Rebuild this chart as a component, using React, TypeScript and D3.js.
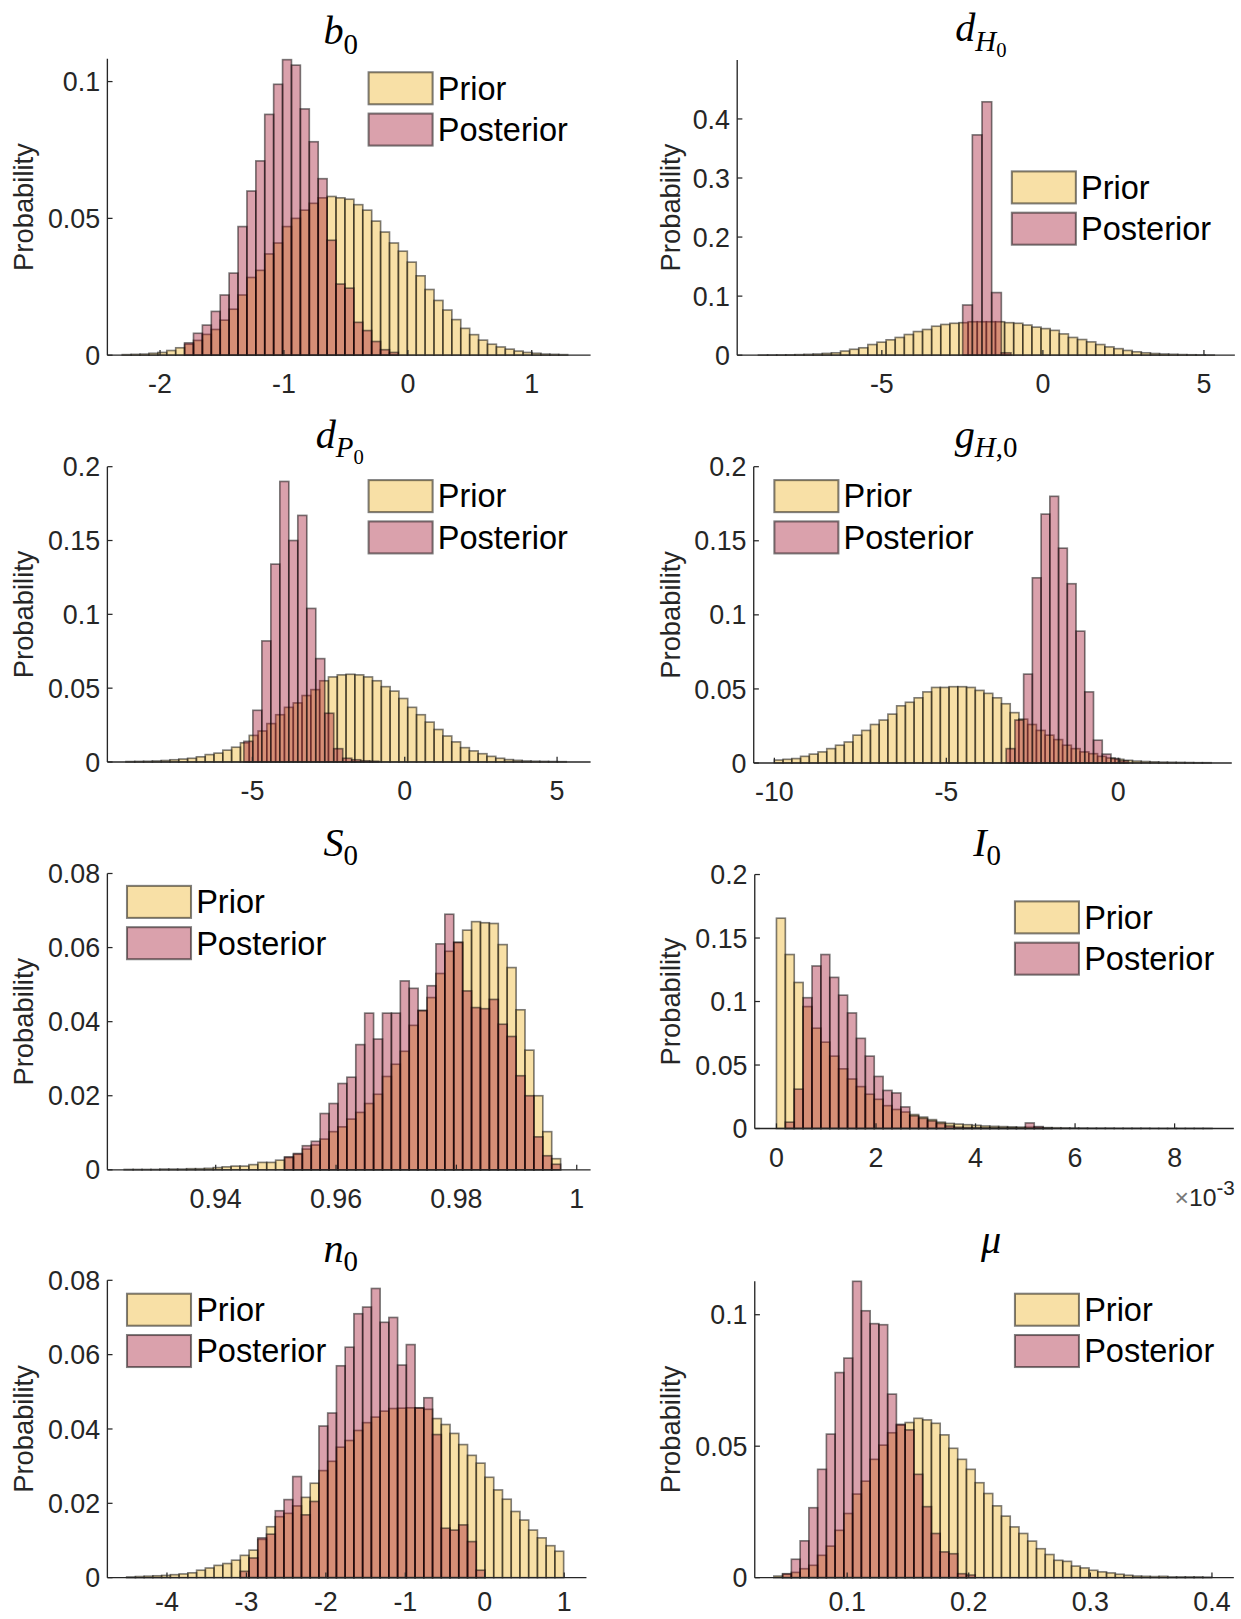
import * as d3 from "d3";

// ---- data (probabilities per bin) ----
const b0Prior = [0.0002, 0.0003, 0.0004, 0.0007, 0.001, 0.0017, 0.0027, 0.004, 0.0054, 0.0076, 0.0094, 0.0128, 0.0168, 0.022, 0.0284, 0.031, 0.037, 0.041, 0.047, 0.05, 0.053, 0.0555, 0.0575, 0.058, 0.0575, 0.057, 0.055, 0.053, 0.049, 0.045, 0.041, 0.038, 0.034, 0.029, 0.024, 0.02, 0.0165, 0.013, 0.0098, 0.0075, 0.0055, 0.004, 0.003, 0.0022, 0.0015, 0.001, 0.0007, 0.0004, 0.0003, 0.0002];
const b0Post = [0.0045, 0.008, 0.011, 0.016, 0.022, 0.03, 0.047, 0.06, 0.071, 0.088, 0.099, 0.108, 0.106, 0.09, 0.078, 0.0645, 0.042, 0.026, 0.0245, 0.012, 0.009, 0.005, 0.002, 0.001];

const dH0Prior = [0.0002, 0.0003, 0.0004, 0.0006, 0.0009, 0.0014, 0.002, 0.003, 0.004, 0.007, 0.01, 0.0125, 0.018, 0.022, 0.026, 0.03, 0.035, 0.04, 0.0435, 0.049, 0.052, 0.054, 0.055, 0.0566, 0.0566, 0.0566, 0.0566, 0.055, 0.054, 0.051, 0.0475, 0.045, 0.042, 0.036, 0.03, 0.0265, 0.0225, 0.018, 0.014, 0.011, 0.008, 0.0057, 0.004, 0.0028, 0.002, 0.0015, 0.001, 0.0007, 0.0005, 0.0003];
const dH0Post = [0.085, 0.373, 0.429, 0.106, 0.004];

const dP0Prior = [0.0003, 0.0004, 0.0005, 0.0007, 0.001, 0.0015, 0.002, 0.0025, 0.0035, 0.005, 0.006, 0.008, 0.01, 0.013, 0.018, 0.021, 0.026, 0.032, 0.037, 0.04, 0.045, 0.049, 0.055, 0.0576, 0.059, 0.0594, 0.059, 0.0576, 0.055, 0.051, 0.048, 0.043, 0.037, 0.032, 0.027, 0.022, 0.0176, 0.0136, 0.0097, 0.0075, 0.0056, 0.0038, 0.0025, 0.0016, 0.0011, 0.0007, 0.0005, 0.0004, 0.0003, 0.0002];
const dP0Post = [0.014, 0.035, 0.082, 0.134, 0.19, 0.15, 0.167, 0.104, 0.07, 0.033, 0.009, 0.0025, 0.0015, 0.0008, 0.0005];

const gH0Prior = [0.002, 0.0025, 0.003, 0.0045, 0.006, 0.0075, 0.0097, 0.012, 0.0142, 0.0188, 0.022, 0.026, 0.029, 0.033, 0.0386, 0.041, 0.044, 0.048, 0.051, 0.051, 0.0515, 0.0515, 0.051, 0.049, 0.047, 0.044, 0.04, 0.034, 0.0296, 0.026, 0.022, 0.0188, 0.0158, 0.012, 0.0097, 0.0075, 0.0063, 0.0045, 0.0034, 0.0025, 0.0018, 0.0013, 0.001, 0.0008, 0.0006, 0.0005, 0.0004, 0.0003, 0.0002, 0.0002];
const gH0Post = [0.0097, 0.029, 0.06, 0.125, 0.168, 0.18, 0.145, 0.121, 0.089, 0.048, 0.0154, 0.006, 0.003, 0.0015];

const s0Prior = [0.0001, 0.0001, 0.0001, 0.0001, 0.0002, 0.0002, 0.0002, 0.0003, 0.0003, 0.0004, 0.0006, 0.0008, 0.001, 0.001, 0.0014, 0.002, 0.002, 0.0026, 0.0033, 0.0042, 0.0056, 0.0067, 0.0083, 0.0103, 0.0116, 0.0137, 0.0155, 0.0179, 0.0204, 0.0252, 0.0285, 0.032, 0.039, 0.043, 0.0465, 0.053, 0.059, 0.0614, 0.0647, 0.067, 0.0667, 0.0665, 0.0608, 0.0546, 0.0432, 0.0323, 0.02, 0.0103, 0.003];
const s0Post = [0.0035, 0.0044, 0.0065, 0.0077, 0.0152, 0.0179, 0.0233, 0.025, 0.0338, 0.0423, 0.0353, 0.0423, 0.0423, 0.051, 0.049, 0.043, 0.0497, 0.061, 0.069, 0.0614, 0.0483, 0.0438, 0.0435, 0.046, 0.0393, 0.036, 0.0254, 0.02, 0.0089, 0.0038, 0.0015];

// I0 bins are in units of 1e-3
const i0Prior = [0.1656, 0.137, 0.115, 0.096, 0.079, 0.068, 0.057, 0.047, 0.039, 0.033, 0.027, 0.023, 0.018, 0.015, 0.013, 0.011, 0.009, 0.007, 0.005, 0.004, 0.0035, 0.003, 0.0025, 0.002, 0.0017, 0.0015, 0.0013, 0.0011, 0.001, 0.0008, 0.0007, 0.0006, 0.0005, 0.0004, 0.0004, 0.0003, 0.0003, 0.0003, 0.0002, 0.0002, 0.0002, 0.0002, 0.0001, 0.0001, 0.0001, 0.0001, 0.0001, 0.0001, 0.0001];
const i0Post = [0.005, 0.031, 0.103, 0.128, 0.137, 0.119, 0.105, 0.091, 0.071, 0.057, 0.041, 0.03, 0.028, 0.017, 0.01, 0.008, 0.006, 0.004, 0.002, 0.001, 0.0008, 0.0006, 0.0005, 0.0005, 0.0004, 0.0004, 0.0003, 0.0044, 0.0015, 0.0003];

const n0Prior = [0.0002, 0.0003, 0.0004, 0.0005, 0.0006, 0.0008, 0.001, 0.0013, 0.002, 0.0026, 0.0033, 0.0038, 0.0047, 0.006, 0.0074, 0.0103, 0.0137, 0.0164, 0.0173, 0.0193, 0.0216, 0.0254, 0.0288, 0.0313, 0.0351, 0.0369, 0.0396, 0.0417, 0.0432, 0.0448, 0.0455, 0.0456, 0.0457, 0.0456, 0.0453, 0.0428, 0.0412, 0.0388, 0.0358, 0.0329, 0.0308, 0.027, 0.0236, 0.0211, 0.0178, 0.0155, 0.0128, 0.0107, 0.0086, 0.0071];
const n0Post = [0.0017, 0.0053, 0.0107, 0.0117, 0.018, 0.021, 0.0272, 0.0169, 0.0205, 0.0408, 0.0443, 0.057, 0.062, 0.071, 0.0728, 0.0778, 0.0687, 0.07, 0.0572, 0.0627, 0.0457, 0.0484, 0.0385, 0.0133, 0.0128, 0.0142, 0.0097, 0.002];

const muPrior = [0.0006, 0.0013, 0.002, 0.0034, 0.0047, 0.0085, 0.012, 0.018, 0.0244, 0.0318, 0.0367, 0.045, 0.0504, 0.0551, 0.058, 0.059, 0.0606, 0.06, 0.0587, 0.0543, 0.0492, 0.045, 0.0412, 0.0361, 0.032, 0.0273, 0.0234, 0.0193, 0.0168, 0.0139, 0.011, 0.0088, 0.0066, 0.0062, 0.0044, 0.0037, 0.0028, 0.0022, 0.0018, 0.0013, 0.0009, 0.0006, 0.0005, 0.0004, 0.0005, 0.0003, 0.0003, 0.0003, 0.0003, 0.0002];
const muPost = [0.0015, 0.007, 0.014, 0.0266, 0.0412, 0.0546, 0.078, 0.0835, 0.1127, 0.1015, 0.0966, 0.0962, 0.0698, 0.0583, 0.0562, 0.0393, 0.027, 0.0168, 0.0098, 0.0091, 0.0015, 0.001];

// bin edges: [first edge, bin width]
const b0PriorBins = [-2.305, 0.0719];
const b0PostBins = [-1.802, 0.0719];
const dH0PriorBins = [-8.83, 0.283];
const dH0PostBins = [-2.49, 0.3];
const dP0PriorBins = [-9.15, 0.289];
const dP0PostBins = [-5.28, 0.295];
const gH0PriorBins = [-10, 0.254];
const gH0PostBins = [-3.26, 0.254];
const s0PriorBins = [0.9248, 0.00148];
const s0PostBins = [0.9248 + 18 * 0.00148, 0.00148];
const i0PriorBins = [0, 0.1786];
const i0PostBins = [0.1786, 0.1786];
const n0PriorBins = [-4.507, 0.11];
const n0PostBins = [-4.507 + 13 * 0.11, 0.11];
const muPriorBins = [0.0397, 0.0072];
const muPostBins = [0.0469, 0.0072];

// ticks
const b0XTicks = [-2, -1, 0, 1];
const b0YTicks = [0, 0.05, 0.1];
const dH0XTicks = [-5, 0, 5];
const dH0YTicks = [0, 0.1, 0.2, 0.3, 0.4];
const dP0XTicks = [-5, 0, 5];
const dP0YTicks = [0, 0.05, 0.1, 0.15, 0.2];
const gH0XTicks = [-10, -5, 0];
const gH0YTicks = [0, 0.05, 0.1, 0.15, 0.2];
const s0XTicks = [0.94, 0.96, 0.98, 1];
const s0YTicks = [0, 0.02, 0.04, 0.06, 0.08];
const i0XTicks = [0, 2, 4, 6, 8];
const i0YTicks = [0, 0.05, 0.1, 0.15, 0.2];
const n0XTicks = [-4, -3, -2, -1, 0, 1];
const n0YTicks = [0, 0.02, 0.04, 0.06, 0.08];
const muXTicks = [0.1, 0.2, 0.3, 0.4];
const muYTicks = [0, 0.05, 0.1];

const LEGEND_LABELS = ["Prior", "Posterior"];

// MATLAB-ish colours, drawn with face alpha 0.4
const PRIOR_COLOR = "#EDB120";
const POST_COLOR = "#A2142F";
const FACE_ALPHA = 0.4;
const AXIS_COLOR = "#262626";
const SANS = "'Liberation Sans', Arial, Helvetica, sans-serif";
const SERIF = "'Liberation Serif', 'DejaVu Serif', 'Times New Roman', serif";
const PAGE_SCALE = 1.0325;

type TPart = { t: string; it?: boolean; lv: number };

const PANELS = [
  {
    key: "b0", title: [{ t: "b", it: true, lv: 0 }, { t: "0", lv: 1 }] as TPart[], titleX: 330, titleY: 43,
    prior: b0Prior, priorBins: b0PriorBins, post: b0Post, postBins: b0PostBins,
    box: { l: 104, r: 572, t: 57, b: 344 }, xDom: [-2.425, 1.475], yMax: 0.1083,
    xTicks: b0XTicks, yTicks: b0YTicks, legend: [357, 70], yLabelX: 23, labelDy: 37,
  },
  {
    key: "dH0", title: [{ t: "d", it: true, lv: 0 }, { t: "H", it: true, lv: 1 }, { t: "0", lv: 2 }] as TPart[], titleX: 950, titleY: 40,
    prior: dH0Prior, priorBins: dH0PriorBins, post: dH0Post, postBins: dH0PostBins,
    box: { l: 714, r: 1196, t: 58, b: 344 }, xDom: [-9.49, 5.96], yMax: 0.5,
    xTicks: dH0XTicks, yTicks: dH0YTicks, legend: [980, 166], yLabelX: 649, labelDy: 37,
  },
  {
    key: "dP0", title: [{ t: "d", it: true, lv: 0 }, { t: "P", it: true, lv: 1 }, { t: "0", lv: 2 }] as TPart[], titleX: 329, titleY: 434,
    prior: dP0Prior, priorBins: dP0PriorBins, post: dP0Post, postBins: dP0PostBins,
    box: { l: 104, r: 572, t: 452, b: 738 }, xDom: [-9.76, 6.1], yMax: 0.2,
    xTicks: dP0XTicks, yTicks: dP0YTicks, legend: [357, 465], yLabelX: 23, labelDy: 37,
  },
  {
    key: "gH0", title: [{ t: "g", it: true, lv: 0 }, { t: "H", it: true, lv: 1 }, { t: ",0", lv: 1 }] as TPart[], titleX: 955, titleY: 434,
    prior: gH0Prior, priorBins: gH0PriorBins, post: gH0Post, postBins: gH0PostBins,
    box: { l: 730, r: 1193, t: 452, b: 739 }, xDom: [-10.6, 3.3], yMax: 0.2,
    xTicks: gH0XTicks, yTicks: gH0YTicks, legend: [750, 465], yLabelX: 649, labelDy: 37,
  },
  {
    key: "S0", title: [{ t: "S", it: true, lv: 0 }, { t: "0", lv: 1 }] as TPart[], titleX: 330, titleY: 829,
    prior: s0Prior, priorBins: s0PriorBins, post: s0Post, postBins: s0PostBins,
    box: { l: 104, r: 572, t: 846, b: 1133 }, xDom: [0.922, 1.0023], yMax: 0.08,
    xTicks: s0XTicks, yTicks: s0YTicks, legend: [123, 858], yLabelX: 23, labelDy: 37,
  },
  {
    key: "I0", title: [{ t: "I", it: true, lv: 0 }, { t: "0", lv: 1 }] as TPart[], titleX: 956, titleY: 829,
    prior: i0Prior, priorBins: i0PriorBins, post: i0Post, postBins: i0PostBins,
    box: { l: 731, r: 1195, t: 847, b: 1093 }, xDom: [-0.436, 9.19], yMax: 0.2,
    xTicks: i0XTicks, yTicks: i0YTicks, legend: [983, 873], yLabelX: 649, labelDy: 37, exponent: true,
  },
  {
    key: "n0", title: [{ t: "n", it: true, lv: 0 }, { t: "0", lv: 1 }] as TPart[], titleX: 330, titleY: 1222,
    prior: n0Prior, priorBins: n0PriorBins, post: n0Post, postBins: n0PostBins,
    box: { l: 104, r: 568, t: 1240, b: 1528 }, xDom: [-4.75, 1.28], yMax: 0.08,
    xTicks: n0XTicks, yTicks: n0YTicks, legend: [123, 1253], yLabelX: 23, labelDy: 32,
  },
  {
    key: "mu", title: [{ t: "μ", it: true, lv: 0 }] as TPart[], titleX: 960, titleY: 1214,
    prior: muPrior, priorBins: muPriorBins, post: muPost, postBins: muPostBins,
    box: { l: 731, r: 1195, t: 1241, b: 1528 }, xDom: [0.024, 0.418], yMax: 0.1127,
    xTicks: muXTicks, yTicks: muYTicks, legend: [983, 1253], yLabelX: 649, labelDy: 32,
  },
];

const LV_DY = [0, 9, 15];
const LV_FS = [39, 28, 20];

function Title({ x, y, parts }: { x: number; y: number; parts: TPart[] }) {
  let prev = 0;
  return (
    <text x={x} y={y} textAnchor="middle" fontFamily={SERIF} fill="#000">
      {parts.map((p, i) => {
        const dy = LV_DY[p.lv] - LV_DY[prev];
        prev = p.lv;
        return (
          <tspan key={i} dy={dy} fontSize={LV_FS[p.lv]} fontStyle={p.it ? "italic" : "normal"}>
            {p.t}
          </tspan>
        );
      })}
    </text>
  );
}

const fmt = (v: number) => String(+v.toFixed(4));

function Bars({ values, bins, x, y, base, color }: any) {
  const [start, w] = bins;
  return (
    <g>
      {values.map((v: number, i: number) => {
        const x0 = x(start + i * w);
        const x1 = x(start + (i + 1) * w);
        return (
          <rect
            key={i}
            x={x0}
            y={y(v)}
            width={x1 - x0}
            height={base - y(v)}
            fill={color}
            fillOpacity={FACE_ALPHA}
            stroke="#000"
            strokeOpacity={0.5}
            strokeWidth={1.6}
          />
        );
      })}
    </g>
  );
}

function Panel({ p }: { p: (typeof PANELS)[number] }) {
  const { box } = p;
  const x = d3.scaleLinear().domain(p.xDom).range([box.l, box.r]);
  const y = d3.scaleLinear().domain([0, p.yMax]).range([box.b, box.t]);
  const cy = (box.t + box.b) / 2;
  const [lx, ly] = p.legend;
  return (
    <g>
      <Title x={p.titleX} y={p.titleY} parts={p.title} />
      <Bars values={p.prior} bins={p.priorBins} x={x} y={y} base={box.b} color={PRIOR_COLOR} />
      <Bars values={p.post} bins={p.postBins} x={x} y={y} base={box.b} color={POST_COLOR} />
      {/* axes */}
      <line x1={box.l} x2={box.r} y1={box.b} y2={box.b} stroke={AXIS_COLOR} strokeWidth={1.3} />
      <line x1={box.l} x2={box.l} y1={box.t} y2={box.b} stroke={AXIS_COLOR} strokeWidth={1.3} />
      {p.xTicks.map((t) => (
        <g key={"x" + t}>
          <line x1={x(t)} x2={x(t)} y1={box.b} y2={box.b - 5} stroke={AXIS_COLOR} strokeWidth={1.2} />
          <text x={x(t)} y={box.b + p.labelDy} textAnchor="middle" fontFamily={SANS} fontSize={26} fill={AXIS_COLOR}>
            {fmt(t)}
          </text>
        </g>
      ))}
      {p.yTicks.map((t) => (
        <g key={"y" + t}>
          <line x1={box.l} x2={box.l + 5} y1={y(t)} y2={y(t)} stroke={AXIS_COLOR} strokeWidth={1.2} />
          <text x={box.l - 7} y={y(t) + 9.3} textAnchor="end" fontFamily={SANS} fontSize={26} fill={AXIS_COLOR}>
            {fmt(t)}
          </text>
        </g>
      ))}
      <text
        transform={`translate(${p.yLabelX},${cy}) rotate(-90)`}
        textAnchor="middle"
        dominantBaseline="central"
        fontFamily={SANS}
        fontSize={26.5}
        fill={AXIS_COLOR}
      >
        Probability
      </text>
      {p.exponent && (
        <text x={box.r + 1} y={box.b + 75} textAnchor="end" fontFamily={SANS} fontSize={24} fill={AXIS_COLOR}>
          <tspan fill="#777">×</tspan>10
          <tspan dy={-11} fontSize={20}>-3</tspan>
        </text>
      )}
      {/* legend */}
      {LEGEND_LABELS.map((lab, i) => (
        <g key={lab}>
          <rect
            x={lx}
            y={ly + i * 40}
            width={62}
            height={31}
            fill={i === 0 ? PRIOR_COLOR : POST_COLOR}
            fillOpacity={FACE_ALPHA}
            stroke="#000"
            strokeOpacity={0.5}
            strokeWidth={2}
          />
          <text x={lx + 67} y={ly + i * 40 + 26.5} fontFamily={SANS} fontSize={31.5} fill="#000">
            {lab}
          </text>
        </g>
      ))}
    </g>
  );
}

export default function App() {
  return (
    <svg
      width={1241}
      height={1619}
      viewBox="0 0 1241 1619"
      style={{ position: "absolute", left: 0, top: 0, background: "#fff" }}
    >
      <rect width={1241} height={1619} fill="#fff" />
      <g transform={`scale(${PAGE_SCALE})`}>
        {PANELS.map((p) => (
          <Panel key={p.key} p={p} />
        ))}
      </g>
    </svg>
  );
}
